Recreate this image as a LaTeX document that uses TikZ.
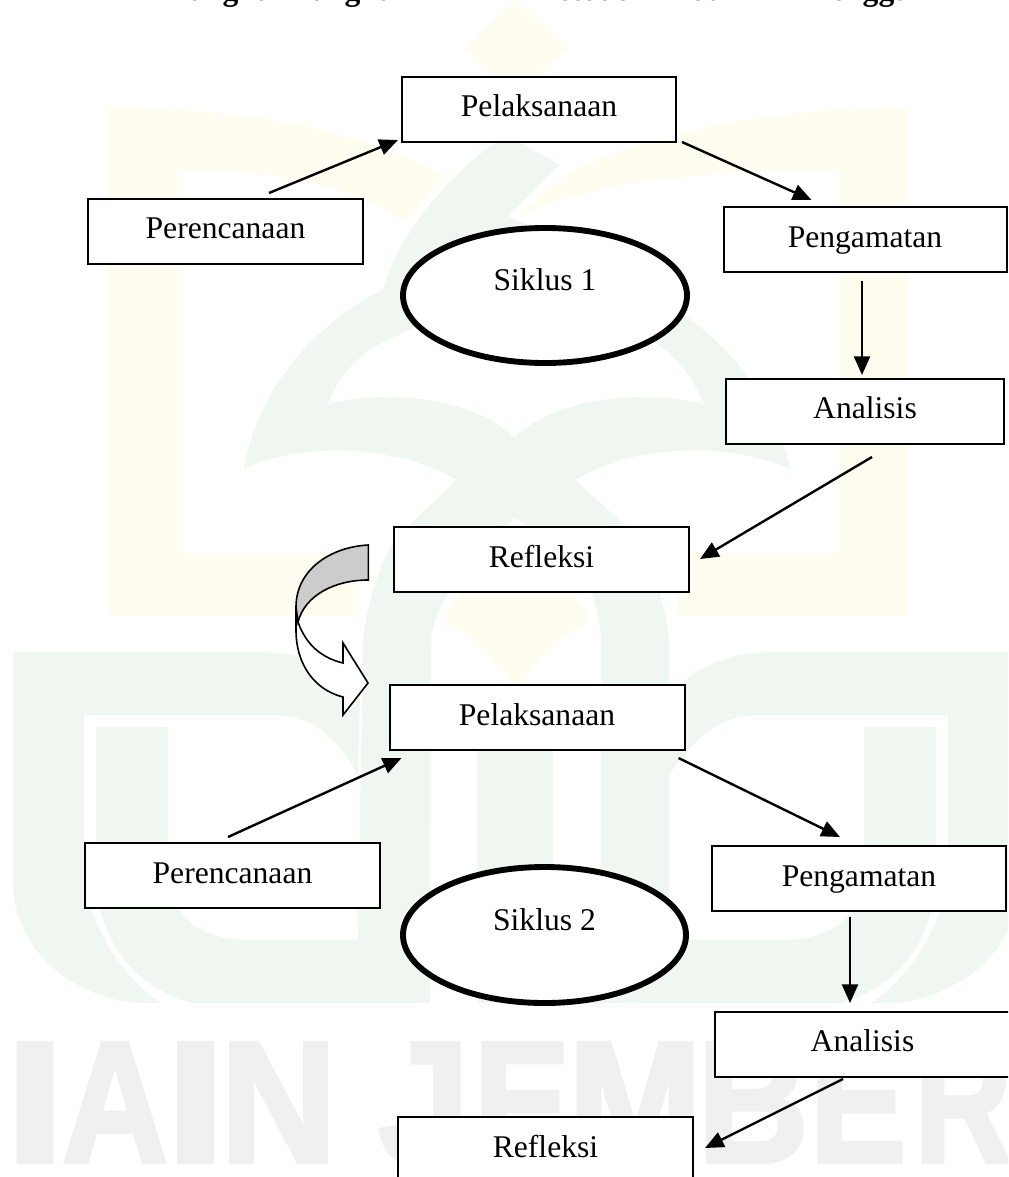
\documentclass[tikz,border=0pt]{standalone}
\usepackage{fontspec}
\usepackage{graphicx}
\setmainfont{Liberation Serif}
\newfontfamily\wmfont{Liberation Sans Bold}[FakeBold=2.5]
\usetikzlibrary{arrows.meta,shapes.geometric}
\definecolor{wmyellow}{HTML}{FFFDF0}
\definecolor{wmgreen}{HTML}{F0F7F0}
\definecolor{wmgrey}{HTML}{F0F0F0}
\definecolor{curvegrey}{HTML}{CCCCCC}
\tikzset{
  x=0.75pt,y=-0.75pt,
  labelfont/.style={font=\fontsize{23.7}{28}\selectfont},
  stepbox/.style={draw=black,fill=white,rectangle,line width=1.5pt,inner sep=0pt,
    text height=30pt,text depth=18.75pt,labelfont,minimum width=#1*0.75pt},
  cycleoval/.style={draw=black,fill=white,ellipse,line width=4.4pt,inner sep=0pt,labelfont},
  flow/.style={draw=black,line width=1.8pt,-{Triangle[length=14pt,width=12pt]}},
  curvedline/.style={draw=black,line width=1.2pt,line join=miter},
  wmletter/.style={text=wmgrey,anchor=base,inner sep=0pt,font=\wmfont\fontsize{129.75}{130}\selectfont},
  titlebit/.style={anchor=base west,inner sep=0pt,font=\bfseries\fontsize{23.7}{28}\selectfont},
}
\newcommand{\wml}[4]{\node[wmletter] (#4) at (#1,1162) {\scalebox{#2}[1]{#3}};}
\begin{document}
\begin{tikzpicture}
\useasboundingbox (0,0) rectangle (1008,1177);
\clip (0,0) rectangle (1008,1177);
\fill[white] (0,0) rectangle (1008,1177);
% watermark: yellow
\fill[wmyellow] (515,0) -- (569,49) .. controls (555,62) and (530,80) .. (516,90) .. controls (500,80) and (478,62) .. (463,49) -- cycle;
\fill[wmyellow] (108,108) .. controls (230,108) and (350,125) .. (444,175) -- (405,222)
   .. controls (345,185) and (290,171) .. (177,171) -- (177,553) -- (354,553) -- (354,616) -- (108,616) -- cycle;
\fill[wmyellow] (907,108) .. controls (790,108) and (670,125) .. (570,172) -- (515,217)
   .. controls (600,180) and (700,171) .. (839,171) -- (839,553) -- (678,553) -- (678,616) -- (907,616) -- cycle;
\fill[wmyellow] (516,530) -- (586,610) -- (586,623) .. controls (555,640) and (530,665) .. (516,690)
   .. controls (502,665) and (477,640) .. (447,623) -- (447,610) -- cycle;
% watermark: green arch
\fill[wmgreen] (507,135) -- (559,165) -- (508,216) .. controls (560,240) and (610,265) .. (645,290)
   .. controls (680,310) and (765,360) .. (790,469)
   .. controls (740,445) and (640,440) .. (575,480) -- (627,527) .. controls (650,560) and (665,600) .. (669,640)
   -- (601,640) .. controls (598,600) and (590,560) .. (514,518) .. controls (470,560) and (435,600) .. (431,640)
   -- (363,640) .. controls (368,600) and (380,560) .. (399,535) -- (457,480)
   .. controls (390,440) and (290,445) .. (244,469)
   .. controls (260,370) and (340,310) .. (383,290) .. controls (395,240) and (450,170) .. cycle;
\fill[white] (328,404) .. controls (340,370) and (370,345) .. (399,335) -- (470,300) -- (590,300) -- (640,335)
   .. controls (665,345) and (690,370) .. (704,404)
   .. controls (650,390) and (560,395) .. (514,437) .. controls (470,395) and (380,390) .. cycle;
% watermark: green letters
\fill[wmgreen] (96,727) -- (168,727) -- (168,867) .. controls (170,915) and (195,940) .. (251,940) -- (358,940)
   -- (363,640) -- (431,640) -- (430,1003) -- (193,1003) .. controls (125,985) and (96,930) .. (96,870) -- cycle;
\fill[wmgreen] (936,727) -- (864,727) -- (864,867) .. controls (862,915) and (837,940) .. (781,940) -- (695,940)
   .. controls (680,940) and (670,925) .. (669,900)
   -- (669,640) -- (601,640) -- (601,940) -- (553,940) -- (553,700) -- (477,700) -- (477,1003) -- (839,1003) .. controls (907,985) and (936,930) .. (936,870) -- cycle;
\fill[wmgreen] (13,652) -- (257,652) .. controls (300,652) and (335,665) .. (360,695) -- (358,775)
   .. controls (335,735) and (310,715) .. (276,715) -- (84,715) -- (84,870) .. controls (88,925) and (120,975) .. (161,1003)
   -- (135,1003) .. controls (70,995) and (13,950) .. (13,880) -- cycle;
\fill[wmgreen] (1019,652) -- (775,652) .. controls (732,652) and (697,665) .. (669,695) -- (669,775)
   .. controls (697,735) and (722,715) .. (756,715) -- (948,715) -- (948,870) .. controls (944,925) and (912,975) .. (871,1003)
   -- (897,1003) .. controls (962,995) and (1019,950) .. (1019,880) -- cycle;
% watermark: IAIN JEMBER
\wml{35}{1.26}{I}{wmi}
\wml{115}{0.85}{A}{wma}
\wml{195.5}{1.26}{I}{wmib}
\wml{278.5}{0.93}{N}{wmn}
\wml{424}{0.95}{J}{wmj}
\wml{522}{0.84}{E}{wme}
\wml{635}{0.93}{M}{wmm}
\wml{753}{0.89}{B}{wmb}
\wml{858}{0.84}{E}{wmeb}
\wml{963}{0.78}{R}{wmr}
% clipped title line
\node[titlebit] (t1) at (168,1) {Langkah};
\node[titlebit] (t2) at (290,1) {Langkah};
\node[titlebit] (t3) at (527,1) {Metode};
\node[titlebit] (t4) at (690,1) {dan};
\node[titlebit] (t5) at (801,1) {Mengga};
% cycle 1
\node[stepbox=274] (pel1) at (539,109.5) {Pelaksanaan};
\node[stepbox=275] (per1) at (225.5,231) {Perencanaan};
\node[stepbox=283] (pen1) at (865,239.5) {Pengamatan};
\node[stepbox=278] (ana1) at (865,411) {Analisis};
\node[stepbox=295] (ref1) at (541.5,559.5) {Refleksi};
\node[cycleoval,minimum width=284*0.75pt,minimum height=135*0.75pt] (sik1) at (545,295.5) {\raisebox{3.75pt}[0pt][0pt]{Siklus 1}};
% cycle 2
\node[stepbox=295] (pel2) at (537,717.5) {Pelaksanaan};
\node[stepbox=295] (per2) at (232.5,875.5) {Perencanaan};
\node[stepbox=294] (pen2) at (859,878.5) {Pengamatan};
\node[stepbox=295] (ana2) at (862.5,1044) {Analisis};
\node[stepbox=295] (ref2) at (545.5,1149.5) {Refleksi};
\node[cycleoval,minimum width=283*0.75pt,minimum height=136*0.75pt] (sik2) at (544.5,935) {\raisebox{3.75pt}[0pt][0pt]{Siklus 2}};
% free ends of the arrows
\coordinate (a1s) at (269,193); \coordinate (a1e) at (398,140);
\coordinate (a2s) at (682,142); \coordinate (a2e) at (811.5,200);
\coordinate (a3s) at (862,281); \coordinate (a3e) at (862,375);
\coordinate (a4s) at (872,457); \coordinate (a4e) at (700,559);
\coordinate (a5s) at (228,837); \coordinate (a5e) at (401.5,758);
\coordinate (a6s) at (678.5,758); \coordinate (a6e) at (840,837);
\coordinate (a7s) at (850,917); \coordinate (a7e) at (850,1003);
\coordinate (a8s) at (843,1079); \coordinate (a8e) at (705,1148);
\foreach \s/\e in {a1s/a1e,a2s/a2e,a3s/a3e,a4s/a4e,a5s/a5e,a6s/a6e,a7s/a7e,a8s/a8e}
  \draw[flow] (\s) -- (\e);
% curved block arrow
\path[curvedline,fill=white] (298,622) .. controls (306,645) and (322,658) .. (343,663) -- (343,643) -- (368,683)
  -- (343,715) -- (343,697) .. controls (315,690) and (296,665) .. (296,630) -- (296,607) -- cycle;
\path[curvedline,fill=curvegrey] (368.3,545) .. controls (330,547) and (296,570) .. (296,607) -- (298,622)
  .. controls (305,595) and (335,580) .. (368.3,580) -- cycle;
\end{tikzpicture}
\end{document}
